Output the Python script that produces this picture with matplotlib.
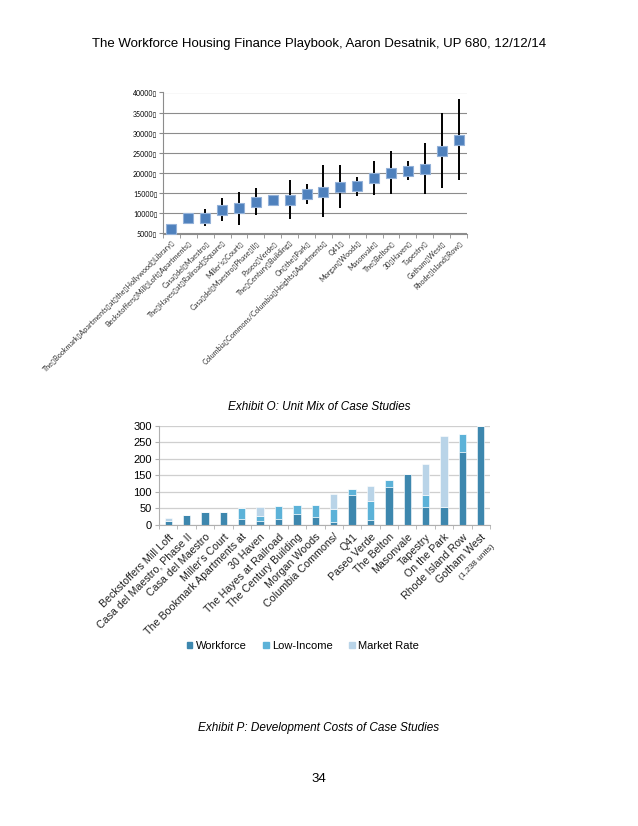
import numpy as np
import matplotlib
matplotlib.use("Agg")
import matplotlib.pyplot as plt
from matplotlib.patches import Patch

# Top chart: development cost per unit (center, low, high)
B = "\u25af"  # missing-glyph box seen in the source document
cost_labels = [
    "The Bookmark Apartments at the Hollywood Library",
    "Beckstoffers Mill Loft Apartments",
    "Casa del Maestro",
    "The Hayes at Railroad Square",
    "Miller's Court",
    "Casa del Maestro Phase II",
    "Paseo Verde",
    "The Century Building",
    "On the Park",
    "Columbia Commons/Columbia Heights Apartments",
    "Q41",
    "Morgan Woods",
    "Masonvale",
    "The Belton",
    "30 Haven",
    "Tapestry",
    "Gotham West",
    "Rhode Island Row",
]
cost_mid = [6100, 8800, 8800, 10800, 11300, 12900, 13200, 13400, 14800, 15300,
            16500, 16700, 18700, 20000, 20600, 20900, 25600, 28300]
cost_low = [6000, 8000, 6800, 8200, 7200, 9700, 13200, 8700, 12300, 9100,
            11400, 14200, 14500, 14700, 18200, 14700, 16400, 18400]
cost_high = [6100, 9900, 11100, 13800, 15200, 16200, 13300, 18200, 17400, 22000,
             22000, 19100, 23100, 25400, 23000, 27400, 35000, 38400]
cost_ticks = [5000, 10000, 15000, 20000, 25000, 30000, 35000, 40000]

# Bottom chart: unit mix
mix_labels = [
    "Beckstoffers Mill Loft", "Casa del Maestro, Phase II", "Casa del Maestro",
    "Miller's Court", "The Bookmark Apartments at", "30 Haven",
    "The Hayes at Railroad", "The Century Building", "Morgan Woods",
    "Columbia Commons/", "Q41", "Paseo Verde", "The Belton", "Masonvale",
    "Tapestry", "On the Park", "Rhode Island Row", "Gotham West",
]
workforce = [11, 30, 40, 40, 18, 11, 18, 32, 24, 8, 89, 16, 116, 154, 54, 53, 220, 300]
low_income = [0, 0, 0, 0, 32, 17, 38, 28, 36, 40, 19, 55, 19, 0, 37, 0, 54, 0]
market_rate = [10, 0, 0, 0, 0, 26, 0, 0, 0, 46, 0, 48, 0, 0, 94, 214, 0, 0]

fig = plt.figure(figsize=(6.38, 8.26), dpi=100)
fam = ["Liberation Sans", "DejaVu Sans"]
small = ["Lato", "DejaVu Sans"]

fig.text(0.5, 1 - 44 / 826, "The Workforce Housing Finance Playbook, Aaron Desatnik, UP 680, 12/12/14",
         ha="center", va="center", fontsize=9.5, family=fam)

# ---- top chart
ax1 = fig.add_axes([163 / 638, 1 - 233.5 / 826, 304 / 638, 141 / 826])
x = np.arange(len(cost_mid))
mid = np.array(cost_mid)
err = [mid - np.array(cost_low), np.array(cost_high) - mid]
ax1.errorbar(x, mid, yerr=err, fmt="none", ecolor="black", elinewidth=1.4, capsize=0, zorder=2)
ax1.plot(x, mid, "s", ms=6.5, mfc="#4f81bd", mec="#93b1d8", mew=0.8, zorder=3)
ax1.set_xlim(-0.5, len(cost_mid) - 0.5)
ax1.set_ylim(5000, 40000)
ax1.set_yticks(cost_ticks)
ax1.set_yticklabels([f"{v}{B}" for v in cost_ticks], fontsize=5, family=small)
ax1.yaxis.grid(True, color="#8c8c8c", lw=0.8)
ax1.set_axisbelow(True)
ax1.set_xticks(x)
ax1.set_xticklabels([l.replace(" ", B) + B for l in cost_labels], rotation=45,
                    ha="right", rotation_mode="anchor", fontsize=5.2, family=small,
                    color="#303030")
ax1.set_xticks(np.arange(-0.5, len(cost_mid)), minor=True)
ax1.tick_params(axis="x", which="major", length=0, pad=4)
ax1.tick_params(axis="x", which="minor", length=3, color="#8c8c8c")
ax1.tick_params(axis="y", length=3, color="#8c8c8c", pad=1)
for s in ["top", "right"]:
    ax1.spines[s].set_visible(False)
ax1.spines["left"].set_color("#8c8c8c")
ax1.spines["bottom"].set_color("#8c8c8c")

fig.text(0.5, 1 - 407 / 826, "Exhibit O: Unit Mix of Case Studies", ha="center", va="center",
         fontsize=8.5, style="italic", family=fam)

# ---- bottom chart
ax2 = fig.add_axes([159 / 638, 1 - 525 / 826, 331 / 638, 99.5 / 826])
xb = np.arange(len(workforce))
c_wf, c_li, c_mr = "#3d87ae", "#5cb2d8", "#b9d4e8"
w = np.array(workforce)
li = np.array(low_income)
mr = np.array(market_rate)
ax2.bar(xb, w, width=0.4, color=c_wf, edgecolor="white", linewidth=0.4, label="Workforce")
ax2.bar(xb, li, width=0.4, bottom=w, color=c_li, edgecolor="white", linewidth=0.4, label="Low-Income")
ax2.bar(xb, mr, width=0.4, bottom=w + li, color=c_mr, edgecolor="white", linewidth=0.4, label="Market Rate")
ax2.set_xlim(-0.5, len(workforce) - 0.5)
ax2.set_ylim(0, 300)
ax2.set_yticks(range(0, 301, 50))
ax2.tick_params(axis="y", labelsize=8, length=3, color="#b0b0b0", pad=2)
for t in ax2.get_yticklabels():
    t.set_family(fam)
ax2.yaxis.grid(True, color="#cfcfcf", lw=0.9)
ax2.set_axisbelow(True)
ax2.set_xticks(xb)
ax2.set_xticklabels(mix_labels, rotation=45, ha="right", rotation_mode="anchor",
                    fontsize=7.7, family=fam, color="#202020")
ax2.set_xticks(np.arange(-0.5, len(workforce)), minor=True)
ax2.tick_params(axis="x", which="major", length=0, pad=5)
ax2.tick_params(axis="x", which="minor", length=3, color="#b0b0b0")
for s in ["top", "right"]:
    ax2.spines[s].set_visible(False)
ax2.spines["left"].set_color("#b0b0b0")
ax2.spines["bottom"].set_color("#b0b0b0")
ax2.annotate("(1,238 units)", xy=(len(workforce) - 1, 0), xycoords="data",
             xytext=(7, -13), textcoords="offset points", rotation=45,
             ha="right", va="top", rotation_mode="anchor", fontsize=6, family=fam,
             color="#202020")

handles = [Patch(color=c_wf, label="Workforce"), Patch(color=c_li, label="Low-Income"),
           Patch(color=c_mr, label="Market Rate")]
fig.legend(handles=handles, loc="center", bbox_to_anchor=(303 / 638, 1 - 646 / 826), ncol=3,
           frameon=False, handlelength=0.5, handleheight=0.5, handletextpad=0.3,
           columnspacing=1.5, prop={"family": fam, "size": 8})

fig.text(0.5, 1 - 728 / 826, "Exhibit P: Development Costs of Case Studies", ha="center", va="center",
         fontsize=8.5, style="italic", family=fam)
fig.text(0.5, 1 - 779 / 826, "34", ha="center", va="center", fontsize=9.5, family=fam)

fig.savefig("out.png", dpi=100)
